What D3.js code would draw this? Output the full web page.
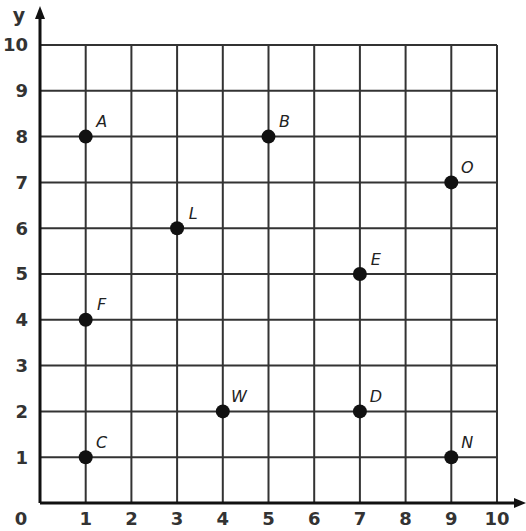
<!DOCTYPE html>
<html><head><meta charset="utf-8">
<script src="https://cdn.jsdelivr.net/npm/d3@7"></script>
<style>body{margin:0;background:#fff}svg{display:block}</style>
</head><body>
<script>
const pointNames = ["A","B","O","L","E","F","W","D","C","N"];
const pointX = [1,5,9,3,7,1,4,7,1,9];
const pointY = [8,8,7,6,5,4,2,2,1,1];
const ticks = [0,1,2,3,4,5,6,7,8,9,10];

const W = 526, H = 531;
const svg = d3.select("body").append("svg").attr("width", W).attr("height", H);
const x = d3.scaleLinear().domain([0,10]).range([40,497]);
const y = d3.scaleLinear().domain([0,10]).range([503,45]);
const font = "'DejaVu Sans', sans-serif";

// grid
svg.append("g").selectAll("line").data(ticks.slice(1)).join("line")
  .attr("x1", d=>x(d)).attr("x2", d=>x(d)).attr("y1", y(0)).attr("y2", y(10))
  .attr("stroke", "#333").attr("stroke-width", 2);
svg.append("g").selectAll("line").data(ticks.slice(1)).join("line")
  .attr("x1", x(0)).attr("x2", x(10)).attr("y1", d=>y(d)).attr("y2", d=>y(d))
  .attr("stroke", "#333").attr("stroke-width", 2);

// axes
svg.append("line").attr("x1", x(0)).attr("x2", 518).attr("y1", y(0)).attr("y2", y(0))
  .attr("stroke", "#111").attr("stroke-width", 3);
svg.append("line").attr("x1", x(0)).attr("x2", x(0)).attr("y1", y(0)).attr("y2", 16)
  .attr("stroke", "#111").attr("stroke-width", 3);
svg.append("path").attr("d", `M526,${y(0)} L514,${y(0)-5} L514,${y(0)+5} Z`).attr("fill", "#111");
svg.append("path").attr("d", `M${x(0)},6 L${x(0)-5},19 L${x(0)+5},19 Z`).attr("fill", "#111");

// tick labels
svg.append("g").selectAll("text").data(ticks.slice(1)).join("text")
  .attr("x", 28).attr("y", d=>y(d)).attr("dy", "0.35em").attr("text-anchor", "end")
  .attr("font-family", font).attr("font-size", 18).attr("font-weight", "bold").attr("fill", "#333")
  .text(d=>d);
svg.append("g").selectAll("text").data(ticks.slice(1)).join("text")
  .attr("x", d=>x(d)).attr("y", 525).attr("text-anchor", "middle")
  .attr("font-family", font).attr("font-size", 18).attr("font-weight", "bold").attr("fill", "#333")
  .text(d=>d);
svg.append("text").attr("x", 21).attr("y", 525).attr("text-anchor", "middle")
  .attr("font-family", font).attr("font-size", 18).attr("font-weight", "bold").attr("fill", "#333").text("0");
svg.append("text").attr("x", 19).attr("y", 22).attr("text-anchor", "middle")
  .attr("font-family", font).attr("font-size", 19).attr("font-weight", "bold").attr("fill", "#333").text("y");

// points
const pts = pointNames.map((n,i)=>({n, x:pointX[i], y:pointY[i]}));
svg.append("g").selectAll("circle").data(pts).join("circle")
  .attr("cx", d=>x(d.x)).attr("cy", d=>y(d.y)).attr("r", 7).attr("fill", "#111");
svg.append("g").selectAll("text").data(pts).join("text")
  .attr("x", d=>x(d.x)+16).attr("y", d=>y(d.y)-15).attr("dy", "0.35em").attr("text-anchor", "middle")
  .attr("font-family", font).attr("font-size", 16).attr("font-style", "italic").attr("fill", "#222")
  .text(d=>d.n);
</script>
</body></html>
